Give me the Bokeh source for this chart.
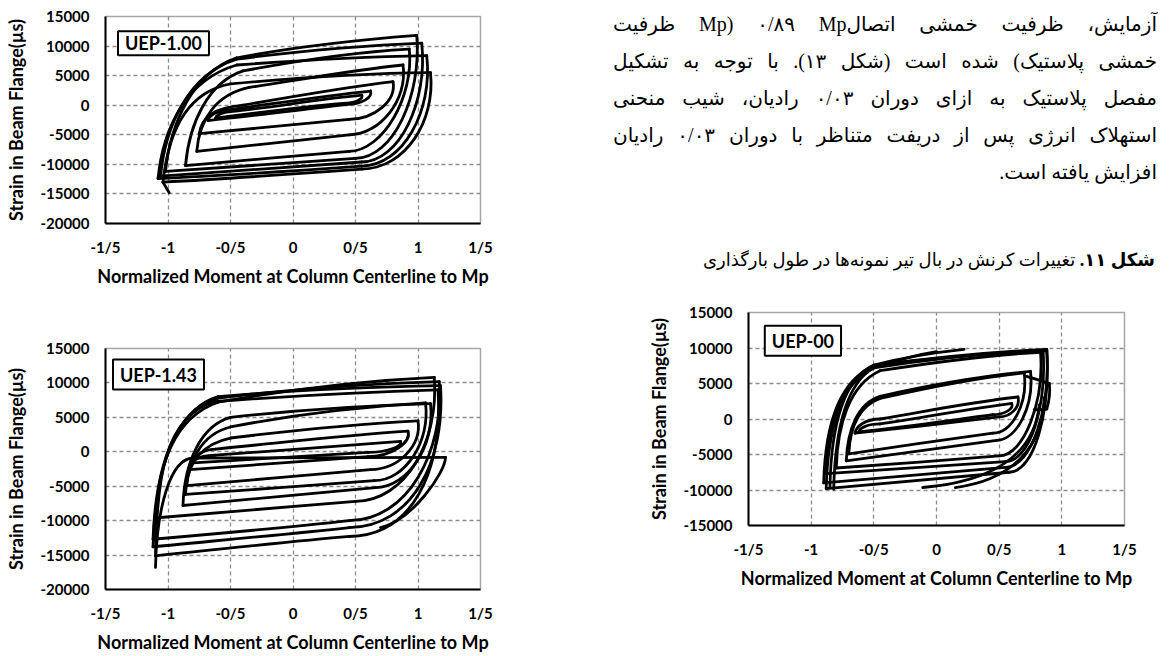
from bokeh.plotting import figure
from bokeh.models import Range1d, FixedTicker, Label, ColumnDataSource, Div
from bokeh.layouts import row, column
from bokeh.embed import file_html
from bokeh.resources import INLINE

# ---------------- data ----------------
x_ticks = [-1.5, -1.0, -0.5, 0.0, 0.5, 1.0, 1.5]
x_tick_labels = ["-1/5", "-1", "-0/5", "0", "0/5", "1", "1/5"]
y_ticks_wide = [-20000, -15000, -10000, -5000, 0, 5000, 10000, 15000]
y_ticks_narrow = [-15000, -10000, -5000, 0, 5000, 10000, 15000]

x_title = "Normalized Moment at Column Centerline to Mp"
y_title = "Strain in Beam Flange(µs)"

# each path: start point, then (control1, control2, end) per cubic segment
uep100_paths = [
    [(-0.62, -2200), (-0.61, -1700), (-0.57, -1150), (-0.50, -1100), (-0.15, -300), (0.20, 1000), (0.55, 1700),
     (0.57, 1100), (0.50, 350), (0.40, 300), (0.05, -350), (-0.30, -1300), (-0.62, -2200)],
    [(-0.68, -2600), (-0.67, -1700), (-0.60, -850), (-0.52, -800), (-0.14, 300), (0.24, 1600), (0.62, 2400),
     (0.64, 1300), (0.55, 150), (0.42, 100), (0.05, -800), (-0.32, -1800), (-0.68, -2600)],
    [(-0.75, -4800), (-0.73, -2000), (-0.64, -500), (-0.40, 0), (0.00, 1500), (0.40, 3000), (0.80, 4000),
     (0.83, 700), (0.65, -2350), (0.45, -2400), (0.05, -3200), (-0.35, -4000), (-0.75, -4800)],
    [(-0.77, -7800), (-0.75, -2500), (-0.62, 1800), (-0.35, 3000), (0.05, 4300), (0.50, 6000), (0.88, 6800),
     (0.92, 1000), (0.70, -4950), (0.45, -5000), (0.04, -5900), (-0.36, -6900), (-0.77, -7800)],
    [(-0.86, -10200), (-0.83, -3000), (-0.68, 3800), (-0.40, 5800), (0.05, 7600), (0.50, 9000), (0.93, 9500),
     (0.97, 1500), (0.72, -7700), (0.45, -7800), (0.01, -8600), (-0.42, -9400), (-0.86, -10200)],
    [(-1.02, -11200), (-0.98, -3000), (-0.80, 5500), (-0.45, 8000), (0.00, 9800), (0.50, 11000), (0.99, 11800),
     (1.03, 1500), (0.80, -8900), (0.50, -9000), (-0.01, -9700), (-0.51, -10500), (-1.02, -11200)],
    [(-1.06, -12000), (-1.02, -3500), (-0.84, 5200), (-0.45, 7800), (0.00, 9000), (0.55, 10100), (1.03, 10500),
     (1.08, 500), (0.85, -9500), (0.55, -9600), (0.01, -10400), (-0.52, -11200), (-1.06, -12000)],
    [(-1.08, -12400), (-1.04, -4000), (-0.86, 4300), (-0.45, 6800), (0.05, 7600), (0.55, 8200), (1.07, 8400),
     (1.12, -1000), (0.88, -10200), (0.55, -10300), (0.01, -11100), (-0.53, -11900), (-1.08, -12400)],
    [(-1.04, -13000), (-1.00, -5000), (-0.86, 2200), (-0.50, 3600), (0.00, 4600), (0.60, 5400), (1.10, 5500),
     (1.14, -2700), (0.90, -10700), (0.55, -10800), (0.03, -11600), (-0.50, -12400), (-1.04, -13000)],
    [(-1.04, -13000), (-1.02, -13800), (-1.00, -14400), (-0.99, -14800)],
]

uep143_paths = [
    [(-0.80, -1600), (-0.79, -1000), (-0.72, -520), (-0.62, -500), (-0.13, 100), (0.37, 900), (0.86, 1500),
     (0.88, 800), (0.75, -80), (0.60, -100), (0.13, -600), (-0.33, -1100), (-0.80, -1600)],
    [(-0.83, -2600), (-0.82, -1100), (-0.74, 380), (-0.62, 400), (-0.10, 1300), (0.41, 2400), (0.92, 3000),
     (0.95, 1300), (0.78, -680), (0.60, -700), (0.12, -1300), (-0.35, -2000), (-0.83, -2600)],
    [(-0.85, -4900), (-0.84, -1500), (-0.72, 1200), (-0.50, 2000), (-0.05, 3000), (0.46, 4000), (1.00, 4500),
     (1.03, 1000), (0.85, -2550), (0.62, -2600), (0.13, -3400), (-0.36, -4100), (-0.85, -4900)],
    [(-0.86, -6200), (-0.85, -1500), (-0.73, 2600), (-0.50, 3600), (-0.05, 5200), (0.50, 6500), (1.06, 7100),
     (1.10, 1500), (0.90, -4150), (0.65, -4200), (0.15, -4900), (-0.36, -5500), (-0.86, -6200)],
    [(-0.88, -7800), (-0.87, -1600), (-0.74, 3800), (-0.50, 5000), (0.00, 6000), (0.53, 6700), (1.10, 7000),
     (1.14, 1000), (0.92, -5150), (0.66, -5200), (0.14, -6100), (-0.37, -6900), (-0.88, -7800)],
    [(-1.10, -9600), (-1.08, -2000), (-0.95, 5000), (-0.60, 7200), (-0.10, 8800), (0.55, 10300), (1.13, 10800),
     (1.17, 1500), (0.90, -7100), (0.50, -7200), (0.00, -7900), (-0.55, -8800), (-1.10, -9600)],
    [(-1.12, -12700), (-1.10, -3000), (-0.97, 5600), (-0.60, 7800), (-0.10, 8900), (0.55, 9900), (1.17, 10200),
     (1.21, 0), (0.92, -9900), (0.45, -10000), (0.00, -10900), (-0.55, -11800), (-1.12, -12700)],
    [(-1.12, -13800), (-1.10, -3500), (-0.98, 5800), (-0.60, 8000), (-0.10, 8800), (0.55, 9400), (1.18, 9600),
     (1.22, -1500), (0.95, -10900), (0.45, -11000), (0.00, -11900), (-0.55, -12800), (-1.12, -13800)],
    [(-1.10, -15100), (-1.09, -4500), (-1.04, 5200), (-0.62, 7300), (-0.10, 8000), (0.55, 8700), (1.16, 9000),
     (1.20, -3000), (0.95, -12200), (0.45, -12300), (0.00, -13000), (-0.50, -14000), (-1.10, -15100)],
    [(-1.10, -16800), (-1.09, -8000), (-0.98, -1000), (-0.80, -900), (-0.10, -900), (0.60, -850), (1.22, -800),
     (1.22, -3000), (0.95, -10000), (0.70, -11000)],
]

uep00_paths = [
    [(-0.62, -1800), (-0.61, -1200), (-0.55, -720), (-0.45, -700), (-0.10, 200), (0.25, 1400), (0.60, 2200),
     (0.62, 1400), (0.54, 620), (0.45, 600), (0.10, -200), (-0.25, -1100), (-0.62, -1800)],
    [(-0.65, -2000), (-0.64, -1000), (-0.57, -30), (-0.45, 0), (-0.08, 1100), (0.28, 2400), (0.65, 3100),
     (0.67, 1600), (0.59, 320), (0.50, 300), (0.12, -500), (-0.27, -1300), (-0.65, -2000)],
    [(-0.70, -4900), (-0.69, -1200), (-0.62, 1800), (-0.45, 2900), (-0.10, 4300), (0.30, 5800), (0.70, 6500),
     (0.73, 2000), (0.60, -1950), (0.45, -2000), (0.07, -2900), (-0.32, -3900), (-0.70, -4900)],
    [(-0.72, -5900), (-0.71, -1500), (-0.63, 2200), (-0.45, 3200), (-0.10, 4600), (0.32, 6000), (0.75, 6700),
     (0.78, 1800), (0.64, -2950), (0.48, -3000), (0.08, -3900), (-0.32, -5000), (-0.72, -5900)],
    [(-0.80, -6900), (-0.79, -1000), (-0.70, 4800), (-0.45, 6800), (-0.05, 7900), (0.40, 9000), (0.83, 9400),
     (0.86, 2500), (0.70, -5150), (0.50, -5200), (0.07, -5800), (-0.37, -6400), (-0.80, -6900)],
    [(-0.88, -7700), (-0.87, -1500), (-0.78, 4800), (-0.50, 7200), (-0.10, 8300), (0.40, 9300), (0.85, 9700),
     (0.88, 2000), (0.75, -5950), (0.55, -6000), (0.07, -6600), (-0.40, -7100), (-0.88, -7700)],
    [(-0.90, -9000), (-0.89, -2000), (-0.80, 5200), (-0.50, 7500), (-0.10, 8500), (0.40, 9400), (0.88, 9800),
     (0.91, 1500), (0.76, -6750), (0.55, -6800), (0.07, -7500), (-0.42, -8300), (-0.90, -9000)],
    [(-0.88, -9800), (-0.87, -2500), (-0.78, 5500), (-0.48, 7600), (-0.05, 8500), (0.40, 9300), (0.88, 9600),
     (0.91, 1000), (0.78, -7450), (0.58, -7500), (0.09, -8300), (-0.40, -9100), (-0.88, -9800)],
    [(-0.82, -9900), (-0.81, -1500), (-0.72, 5000), (-0.50, 7200), (-0.35, 8100), (-0.18, 9000), (0.00, 9500)],
    [(-0.85, -9500), (-0.84, -1000), (-0.74, 5800), (-0.50, 7600), (-0.25, 8700), (0.00, 9400), (0.22, 9800)],
    [(-0.11, -9650), (0.45, -8800), (0.78, -5000), (0.82, 2000)],
    [(0.15, -9650), (0.60, -8600), (0.85, -4000), (0.86, 3000)],
    [(0.72, 6000), (0.80, 5600), (0.86, 5200), (0.90, 5000), (0.91, 3500), (0.89, 2000), (0.88, 1400),
     (0.84, 1350), (0.81, 1300), (0.78, 1300)],
]

persian_lines = [
    "آزمایش، ظرفیت خمشی اتصالMp) ۰/۸۹ Mp ظرفیت",
    "خمشی پلاستیک) شده است (شکل ۱۳). با توجه به تشکیل",
    "مفصل پلاستیک به ازای دوران ۰/۰۳ رادیان، شیب منحنی",
    "استهلاک انرژی پس از دریفت متناظر با دوران ۰/۰۳ رادیان",
    "افزایش یافته است.",
]
caption_bold = "شکل ۱۱."
caption_text = "تغییرات کرنش در بال تیر نمونه‌ها در طول بارگذاری"

# ---------------- helpers ----------------
LBL_FONT = "Lato"


def segments(paths):
    cols = dict(x0=[], y0=[], cx0=[], cy0=[], cx1=[], cy1=[], x1=[], y1=[])
    for path in paths:
        for i in range(0, len(path) - 1, 3):
            (a, b), (c, d), (e, f), (g, h) = path[i:i + 4]
            cols["x0"].append(a); cols["y0"].append(b)
            cols["cx0"].append(c); cols["cy0"].append(d)
            cols["cx1"].append(e); cols["cy1"].append(f)
            cols["x1"].append(g); cols["y1"].append(h)
    return ColumnDataSource(cols)


def make_chart(w, h, ylo, yhi, yticks, paths, tag, tag_x, tag_y, tag_pad_v, bl, br, bt, bb):
    p = figure(width=w, height=h, x_range=Range1d(-1.5, 1.5), y_range=Range1d(ylo, yhi),
               toolbar_location=None, output_backend="svg",
               min_border_left=bl, min_border_right=br, min_border_top=bt, min_border_bottom=bb)
    p.outline_line_color = "#a6a6a6"
    p.outline_line_width = 1.5
    p.xaxis.ticker = FixedTicker(ticks=x_ticks)
    p.xaxis.major_label_overrides = dict(zip(x_ticks, x_tick_labels))
    p.yaxis.ticker = FixedTicker(ticks=yticks)
    p.yaxis.major_label_overrides = {t: str(t) for t in yticks}
    for ax in (p.xaxis[0], p.yaxis[0]):
        ax.axis_line_color = "black"
        ax.axis_line_width = 2
        ax.major_tick_out = 0
        ax.major_tick_in = 0
        ax.minor_tick_out = 0
        ax.minor_tick_in = 0
        ax.major_label_text_font = LBL_FONT
        ax.major_label_text_font_style = "bold"
        ax.major_label_text_font_size = "15px"
        ax.major_label_text_color = "black"
        ax.axis_label_text_font = LBL_FONT
        ax.axis_label_text_font_style = "bold"
        ax.axis_label_text_font_size = "18px"
        ax.axis_label_text_color = "black"
    p.xaxis.axis_label = x_title
    p.yaxis.axis_label = y_title
    p.xaxis.major_label_standoff = 14
    p.xaxis.axis_label_standoff = 6
    p.yaxis.major_label_standoff = 16
    p.yaxis.axis_label_standoff = 10
    for g in (p.xgrid[0], p.ygrid[0]):
        g.grid_line_color = "#8c8c8c"
        g.grid_line_dash = "4 3"
        g.grid_line_width = 1.3
    p.bezier(x0="x0", y0="y0", x1="x1", y1="y1", cx0="cx0", cy0="cy0", cx1="cx1", cy1="cy1",
             source=segments(paths), line_color="black", line_width=2.8, line_cap="round")
    lab = Label(x=tag_x, y=tag_y, text=tag, text_font=LBL_FONT, text_font_style="bold",
                text_font_size="18px", text_color="black", text_align="left", text_baseline="top",
                border_line_color="black", border_line_width=2, background_fill_color="white",
                padding=dict(left=7, right=7, top=tag_pad_v, bottom=tag_pad_v))
    p.add_layout(lab)
    return p


fig1 = make_chart(498, 300, -20000, 15000, y_ticks_wide, uep100_paths, "UEP-1.00", -1.40, 12500, 1,
                  105, 18, 16, 77)
fig2 = make_chart(498, 355, -20000, 15000, y_ticks_wide, uep143_paths, "UEP-1.43", -1.44, 13400, 4,
                  105, 18, 48, 62)
fig3 = make_chart(672, 358, -15000, 15000, y_ticks_narrow, uep00_paths, "UEP-00", -1.37, 13150, 4,
                  250, 46, 14, 131)

# ---------------- text block (HTML so that the browser does RTL shaping) ----------------
parts = ['<div style="position:relative;width:672px;height:298px;color:#000;'
         'font-family:\'Liberation Serif\',\'DejaVu Sans\',serif;">']
for i, t in enumerate(persian_lines):
    top = 24 + 37 * i - 15
    last = i == len(persian_lines) - 1
    align = "text-align:right;" if last else "text-align:justify;text-align-last:justify;"
    width = "" if last else "width:544px;"
    parts.append(
        f'<div dir="rtl" style="position:absolute;right:13px;top:{top}px;{width}height:30px;'
        f'line-height:30px;font-size:20px;{align}">{t}</div>'
    )
parts.append(
    f'<div dir="rtl" style="position:absolute;right:15px;top:{260 - 15}px;height:30px;line-height:30px;'
    f'font-size:18px;white-space:nowrap;"><b>{caption_bold}</b> {caption_text}</div>'
)
parts.append('</div>')
text_block = Div(text="".join(parts), width=672, height=298, margin=0)

layout = row(column(fig1, fig2), column(text_block, fig3))
open("out.html", "w").write(file_html(layout, INLINE, "chart"))
